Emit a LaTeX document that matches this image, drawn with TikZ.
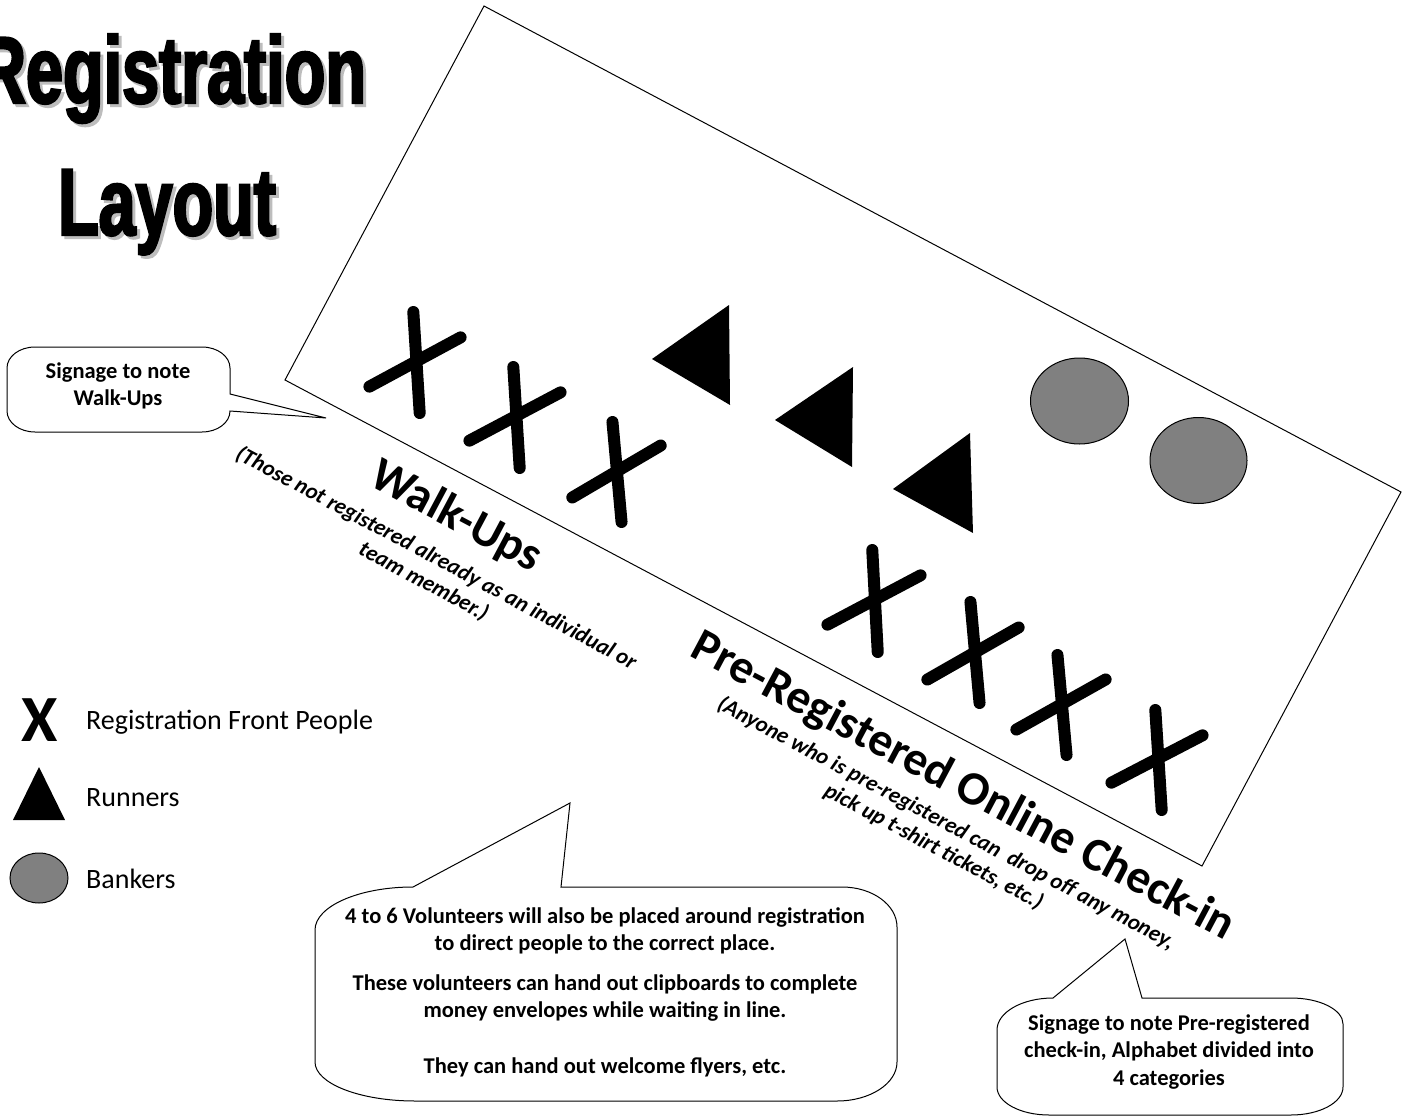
\documentclass[tikz,border=0pt]{standalone}
\usepackage{fontspec}
\usepackage{graphicx}
\setmainfont{Carlito}
\newfontfamily\titlefont{Liberation Sans}[FakeStretch=0.70,BoldFeatures={FakeBold=2.5}]
\definecolor{bankgray}{HTML}{808080}
\definecolor{shadowgray}{HTML}{BDBDBD}
\tikzset{
 roomframe/.style={draw=black, line width=1pt},
 bubble/.style={draw=black, line width=1pt, fill=white},
 xstroke/.style={line width=12pt, line cap=round, shorten <=5pt, shorten >=5pt},
 runner/.style={fill=black},
 banker/.style={draw=black, line width=1pt, fill=bankgray},
 bubtext/.style={font=\fontsize{22.5}{27.5}\selectfont\bfseries, align=center, inner sep=0pt},
 legtext/.style={font=\fontsize{28}{33}\selectfont, anchor=base west, inner sep=0pt},
 bigtitle/.style={font=\fontsize{47.5}{56}\selectfont\bfseries, rotate=-28, inner sep=0pt},
 subtitle/.style={font=\fontsize{22.5}{26.5}\selectfont\bfseries\itshape, rotate=-28, align=center, inner sep=0pt},
 titletext/.style={font=\titlefont\fontsize{95}{95}\selectfont\bfseries, anchor=base, inner sep=0pt},
}
\begin{document}
\begin{tikzpicture}[x=1pt,y=-1pt]
\fill[white] (0,0) rectangle (1408,1118);
\useasboundingbox (0,0) rectangle (1408,1118);

% title with shadow
\node[titletext, text=shadowgray] (t1s) at (175,106) {Registration};
\node[titletext] (t1) at (172,103) {Registration};
\node[titletext, text=shadowgray] (t2s) at (170,238) {Layout};
\node[titletext] (t2) at (167,235) {Layout};

% room rectangle
\draw[roomframe] (484,6) -- (1401,492) -- (1202,866) -- (285,380) -- cycle;

% registration front people (X)
\draw[xstroke] (413,307) -- (420,418); \draw[xstroke] (365,389) -- (465,335);
\draw[xstroke] (513,362) -- (520,473); \draw[xstroke] (465,443) -- (565,390);
\draw[xstroke] (612,417) -- (622,527); \draw[xstroke] (568,500) -- (665,443);
\draw[xstroke] (872,545) -- (878,657); \draw[xstroke] (823,627) -- (925,573);
\draw[xstroke] (970,597) -- (980,708); \draw[xstroke] (923,682) -- (1023,625);
\draw[xstroke] (1057,650) -- (1067,760); \draw[xstroke] (1012,732) -- (1110,677);
\draw[xstroke] (1155,705) -- (1162,815); \draw[xstroke] (1107,785) -- (1207,733);

% runners
\fill[runner] (729,305) -- (730,405) -- (652,359) -- cycle;
\fill[runner] (853,367) -- (852,467) -- (775,420) -- cycle;
\fill[runner] (970,433) -- (973,533) -- (893,489) -- cycle;

% bankers
\draw[banker] (1079.5,401) ellipse [x radius=49, y radius=43];
\draw[banker] (1198.5,460.5) ellipse [x radius=48.5, y radius=43];

% area labels
\node[bigtitle] (walk) at (456,517) {Walk-Ups};
\node[subtitle] (walksub) at (430,570) {(Those not registered already as an individual or\\team member.)};
\node[bigtitle] (pre) at (963,787) {Pre-Registered Online Check-in};
\node[subtitle] (presub) at (940,835) {(Anyone who is pre-registered can\ \ drop off any money,\\pick up t-shirt tickets, etc.)};

% left bubble
\draw[bubble] (35,347) -- (202,347) .. controls (217.5,347) and (230,356.4) .. (230,368) -- (230,394) -- (326,418) -- (230,411) .. controls (230,422.6) and (217.5,432) .. (202,432) -- (35,432) .. controls (19.5,432) and (7,422.6) .. (7,411) -- (7,368) .. controls (7,356.4) and (19.5,347) .. (35,347) -- cycle;
\node[bubtext] (b1) at (118,386) {Signage to note\\Walk-Ups};

% middle bubble
\draw[bubble] (413,887) -- (570,803) -- (561,887) -- (842,887) .. controls (872.4,887) and (897,904.9) .. (897,927) -- (897,1062) .. controls (897,1083.5) and (870.1,1101) .. (837,1101) -- (415,1101) .. controls (359.8,1101) and (315,1083.5) .. (315,1062) -- (315,930) .. controls (315,906.3) and (358.9,887) .. (413,887) -- cycle;
\node[bubtext] (b2a) at (605,931) {4 to 6 Volunteers will also be placed around registration\\to direct people to the correct place.};
\node[bubtext] (b2b) at (605,998) {These volunteers can hand out clipboards to complete\\money envelopes while waiting in line.};
\node[bubtext] (b2c) at (605,1067) {They can hand out welcome flyers, etc.};

% right bubble
\draw[bubble] (1053,998) -- (1125,939) -- (1142,998) -- (1291,998) .. controls (1319.7,998) and (1343,1009.6) .. (1343,1024) -- (1343,1087) .. controls (1343,1102.5) and (1319.7,1115) .. (1291,1115) -- (1049,1115) .. controls (1020.3,1115) and (997,1102.5) .. (997,1087) -- (997,1030) .. controls (997,1012.3) and (1022.1,998) .. (1053,998) -- cycle;
\node[bubtext] (b3) at (1169,1052) {Signage to note Pre-registered\\check-in, Alphabet divided into\\4 categories};

% legend
\node[font=\fontsize{66}{66}\selectfont\bfseries, inner sep=0pt] (lx) at (39.5,720) {X};
\fill[runner] (39,767) -- (65,820) -- (13,820) -- cycle;
\draw[banker] (39,878) ellipse [x radius=29, y radius=25];
\node[legtext] (l1) at (86,729) {Registration Front People};
\node[legtext] (l2) at (86,806) {Runners};
\node[legtext] (l3) at (86,888) {Bankers};
\end{tikzpicture}
\end{document}
